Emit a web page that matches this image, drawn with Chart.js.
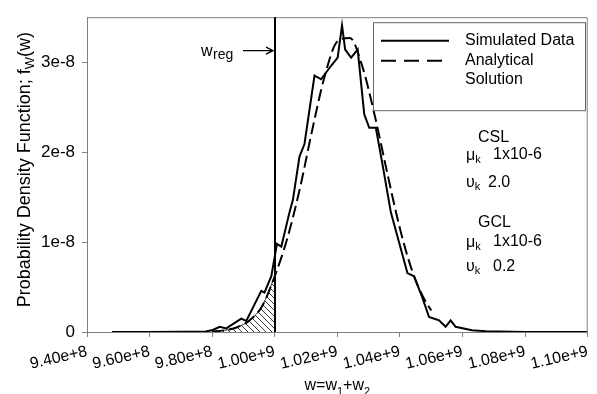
<!DOCTYPE html>
<html><head><meta charset="utf-8">
<script src="https://cdn.jsdelivr.net/npm/chart.js@4/dist/chart.umd.min.js"></script>
<style>html,body{margin:0;padding:0;background:#fff;}</style>
</head><body>
<canvas id="c" width="597" height="394" style="width:597px;height:394px;display:block"></canvas>
<script>
// ---- data ----
const xTicks = [9.4e8, 9.6e8, 9.8e8, 1.0e9, 1.02e9, 1.04e9, 1.06e9, 1.08e9, 1.1e9];
const yTicks = [0, 1e-8, 2e-8, 3e-8];
const simX = [0.9480e9, 0.9600e9, 0.9700e9, 0.9780e9, 0.9802e9, 0.9824e9, 0.9845e9, 0.9893e9, 0.9909e9,
  0.9957e9, 0.9967e9, 0.9989e9, 1.0007e9, 1.0021e9, 1.0047e9, 1.0058e9, 1.0079e9, 1.0095e9, 1.0127e9,
  1.0148e9, 1.0180e9, 1.0201e9, 1.0215e9, 1.0225e9, 1.0244e9, 1.0265e9, 1.0286e9, 1.0302e9, 1.0323e9,
  1.0344e9, 1.0371e9, 1.0424e9, 1.0445e9, 1.0472e9, 1.0493e9, 1.0525e9, 1.0546e9, 1.0562e9, 1.0578e9,
  1.0630e9, 1.0675e9, 1.0800e9, 1.1000e9];
const simY = [0, 0, 0.002e-8, 0.005e-8, 0.022e-8, 0.058e-8, 0.040e-8, 0.149e-8, 0.123e-8,
  0.457e-8, 0.438e-8, 0.62e-8, 0.98e-8, 0.95e-8, 1.33e-8, 1.47e-8, 1.95e-8, 2.09e-8, 2.85e-8,
  2.81e-8, 2.96e-8, 3.05e-8, 3.41e-8, 3.14e-8, 3.05e-8, 3.14e-8, 2.42e-8, 2.27e-8, 2.27e-8,
  1.87e-8, 1.33e-8, 0.655e-8, 0.62e-8, 0.38e-8, 0.166e-8, 0.13e-8, 0.058e-8, 0.13e-8, 0.058e-8,
  0.02e-8, 0.008e-8, 0.001e-8, 0];
const anaX = [0.980e9, 0.984e9, 0.988e9, 0.992e9, 0.996e9, 1.000e9, 1.004e9, 1.008e9, 1.012e9, 1.016e9,
  1.020e9, 1.024e9, 1.028e9, 1.032e9, 1.036e9, 1.040e9, 1.044e9, 1.048e9, 1.050e9];
const anaY = [0.006e-8, 0.019e-8, 0.053e-8, 0.131e-8, 0.29e-8, 0.62e-8, 1.04e-8, 1.59e-8, 2.25e-8, 2.85e-8,
  3.23e-8, 3.27e-8, 2.95e-8, 2.40e-8, 1.76e-8, 1.15e-8, 0.67e-8, 0.35e-8, 0.24e-8];
const wReg = 1.0e9;
const legendLabels = ['Simulated Data', 'Analytical', 'Solution'];

// ---- build ----
const FONT = '"Liberation Sans", Arial, sans-serif';
const pts = (xs, ys) => xs.map((x, i) => ({x, y: ys[i]}));
const hatchPts = pts(anaX, anaY).filter(p => p.x <= wReg);

function makeHatch() {
  const n = 6;
  const c = document.createElement('canvas'); c.width = n; c.height = n;
  const g = c.getContext('2d');
  g.strokeStyle = '#000'; g.lineWidth = 0.8;
  g.beginPath();
  g.moveTo(0, 0); g.lineTo(n, n);
  g.moveTo(-1, n - 1); g.lineTo(1, n + 1);
  g.moveTo(n - 1, -1); g.lineTo(n + 1, 1);
  g.stroke();
  return g.createPattern(c, 'repeat');
}

function drawParts(ctx, x, y, parts, size, subSize, align) {
  let total = 0;
  const widths = parts.map(([t, s]) => {
    ctx.font = (s ? subSize : size) + 'px ' + FONT;
    const w = ctx.measureText(t).width; total += w; return w;
  });
  let cx = align === 'center' ? x - total / 2 : x;
  parts.forEach(([t, s], i) => {
    ctx.font = (s ? subSize : size) + 'px ' + FONT;
    ctx.fillText(t, cx, y + (s ? size * 0.3 : 0));
    cx += widths[i];
  });
}

const decor = {
  id: 'decor',
  afterDatasetsDraw(chart) {
    const {ctx, chartArea: a, scales: {x, y}} = chart;
    ctx.save();
    // frame
    ctx.strokeStyle = '#808080'; ctx.lineWidth = 1;
    ctx.strokeRect(a.left + 0.5, a.top + 0.5, a.right - a.left - 1, a.bottom - a.top);
    // w_reg line
    const xr = Math.round(x.getPixelForValue(wReg));
    ctx.strokeStyle = '#000'; ctx.lineWidth = 2;
    ctx.beginPath(); ctx.moveTo(xr, a.top); ctx.lineTo(xr, a.bottom); ctx.stroke();
    // arrow
    const ay = a.top + 33.5;
    ctx.lineWidth = 1.3;
    ctx.beginPath(); ctx.moveTo(xr - 32, ay); ctx.lineTo(xr - 2, ay);
    ctx.moveTo(xr - 9, ay - 3.5); ctx.lineTo(xr - 2, ay); ctx.lineTo(xr - 9, ay + 3.5);
    ctx.stroke();
    ctx.fillStyle = '#000'; ctx.textBaseline = 'alphabetic'; ctx.textAlign = 'left';
    ctx.font = '16px ' + FONT; ctx.fillText('w', xr - 74, ay + 5.5);
    ctx.font = '14px ' + FONT; ctx.fillText('reg', xr - 62, ay + 8.5);

    // legend box
    const lx = a.left + 286, ly = a.top + 5, lw = 212, lh = 88;
    ctx.fillStyle = '#fff'; ctx.fillRect(lx, ly, lw, lh);
    ctx.strokeStyle = '#666'; ctx.lineWidth = 1;
    ctx.strokeRect(lx + 0.5, ly + 0.5, lw, lh);
    ctx.strokeStyle = '#000'; ctx.lineWidth = 2;
    ctx.beginPath(); ctx.moveTo(lx + 8, ly + 18.5); ctx.lineTo(lx + 76, ly + 18.5); ctx.stroke();
    ctx.setLineDash([15, 8]);
    ctx.beginPath(); ctx.moveTo(lx + 8, ly + 38.5); ctx.lineTo(lx + 76, ly + 38.5); ctx.stroke();
    ctx.setLineDash([]);
    ctx.fillStyle = '#000'; ctx.textBaseline = 'middle';
    ctx.font = '16px ' + FONT;
    ctx.fillText(legendLabels[0], lx + 92, ly + 18);
    ctx.fillText(legendLabels[1], lx + 92, ly + 38);
    ctx.fillText(legendLabels[2], lx + 92, ly + 57);

    // parameter annotations
    const tx = a.left + 379;
    ctx.font = '16px ' + FONT;
    ctx.fillText('CSL', tx + 12, a.top + 120);
    drawParts(ctx, tx, a.top + 138, [['μ', 0], ['k', 1]], 16, 11, 'left');
    ctx.font = '16px ' + FONT; ctx.fillText('1x10-6', tx + 27, a.top + 137);
    drawParts(ctx, tx, a.top + 165, [['υ', 0], ['k', 1]], 16, 11, 'left');
    ctx.font = '16px ' + FONT; ctx.fillText('2.0', tx + 22, a.top + 165);
    ctx.fillText('GCL', tx + 12, a.top + 205);
    drawParts(ctx, tx, a.top + 225, [['μ', 0], ['k', 1]], 16, 11, 'left');
    ctx.font = '16px ' + FONT; ctx.fillText('1x10-6', tx + 27, a.top + 224);
    drawParts(ctx, tx, a.top + 249, [['υ', 0], ['k', 1]], 16, 11, 'left');
    ctx.font = '16px ' + FONT; ctx.fillText('0.2', tx + 27, a.top + 249);
    ctx.restore();
  },
  afterDraw(chart) {
    const {ctx, chartArea: a} = chart;
    ctx.save();
    ctx.fillStyle = '#000'; ctx.textBaseline = 'middle';
    // y title
    ctx.translate(25, (a.top + a.bottom) / 2 - 5);
    ctx.rotate(-Math.PI / 2);
    drawParts(ctx, 0, 0, [['Probability Density Function; f', 0], ['W', 1], ['(w)', 0]], 18, 13, 'center');
    ctx.restore();
    ctx.save();
    ctx.fillStyle = '#000'; ctx.textBaseline = 'alphabetic';
    drawParts(ctx, (a.left + a.right) / 2, 390, [['w=w', 0], ['1', 1], ['+w', 0], ['2', 1]], 16, 11, 'center');
    ctx.restore();
  }
};

new Chart(document.getElementById('c'), {
  type: 'scatter',
  data: {
    datasets: [
      { label: 'Simulated Data', data: pts(simX, simY), showLine: true, borderColor: '#000',
        borderWidth: 2, pointRadius: 0, fill: false, order: 1 },
      { label: 'Analytical Solution', data: pts(anaX, anaY), showLine: true, borderColor: '#000',
        borderWidth: 2, borderDash: [12, 5], pointRadius: 0, fill: false,
        cubicInterpolationMode: 'monotone', order: 2 },
      { label: 'hatch', data: hatchPts, showLine: true, borderColor: '#000', borderWidth: 0.8,
        pointRadius: 0, fill: 'origin', backgroundColor: makeHatch(),
        cubicInterpolationMode: 'monotone', order: 3 }
    ]
  },
  options: {
    responsive: false, animation: false, devicePixelRatio: 1,
    layout: { padding: { left: 0, top: 10, right: 8, bottom: 0 } },
    plugins: { legend: { display: false }, tooltip: { enabled: false } },
    scales: {
      x: {
        type: 'linear', min: 9.4e8, max: 1.1e9,
        afterBuildTicks: s => { s.ticks = xTicks.map(v => ({value: v})); },
        afterFit: s => { s.height = 62; },
        grid: { drawOnChartArea: false, drawTicks: true, tickLength: 5, color: '#808080' },
        border: { color: '#808080' },
        ticks: { autoSkip: false, minRotation: 13, maxRotation: 13, padding: 5, color: '#000',
          font: { family: FONT, size: 16 },
          callback: v => Number(v).toExponential(2) }
      },
      y: {
        type: 'linear', min: 0, max: 3.5e-8,
        afterBuildTicks: s => { s.ticks = yTicks.map(v => ({value: v})); },
        afterFit: s => { s.width = 87; },
        grid: { drawOnChartArea: false, drawTicks: true, tickLength: 5, color: '#808080' },
        border: { color: '#808080' },
        ticks: { padding: 7, color: '#000', font: { family: FONT, size: 17 },
          callback: v => v === 0 ? '0' : Number(v).toExponential(0) }
      }
    }
  },
  plugins: [decor]
});
</script>
</body></html>
